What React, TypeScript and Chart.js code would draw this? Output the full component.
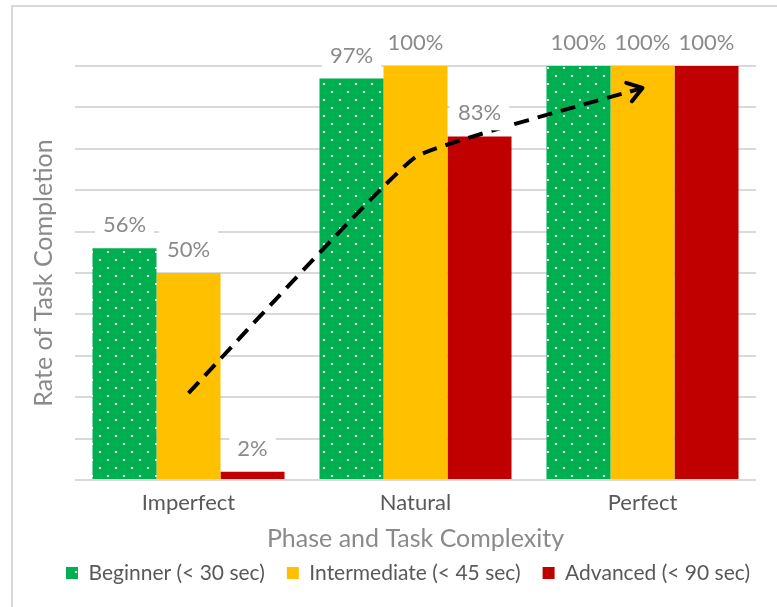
import React, { useEffect, useRef } from "react";
import { Chart, registerables } from "chart.js";

Chart.register(...registerables);

// ---- data ----
const categories = ["Imperfect", "Natural", "Perfect"];
const seriesNames = ["Beginner (< 30 sec)", "Intermediate (< 45 sec)", "Advanced (< 90 sec)"];
const beginnerValues = [56, 97, 100];
const intermediateValues = [50, 100, 100];
const advancedValues = [2, 83, 100];
const trendValues = [21, 78, 94.7];
const yMin = 0;
const yMax = 100;
const yStep = 10;
const xTitle = "Phase and Task Complexity";
const yTitle = "Rate of Task Completion";

// ---- style ----
const FONT = "Lato";
const GREEN = "#00B050";
const YELLOW = "#FFC000";
const RED = "#C00000";
const GRID = "#d9d9d9";
const LABEL_GRAY = "#8a8a8a";
const TICK_GRAY = "#595959";
const LEGEND_CENTER_X = 408;
const LEGEND_TEXT_Y = 573;

function makeDotPattern(ctx: CanvasRenderingContext2D) {
  const c = document.createElement("canvas");
  c.width = 16;
  c.height = 16;
  const p = c.getContext("2d")!;
  p.fillStyle = GREEN;
  p.fillRect(0, 0, 16, 16);
  p.fillStyle = "#ffffff";
  p.fillRect(3, 3, 2, 2);
  p.fillRect(11, 11, 2, 2);
  return ctx.createPattern(c, "repeat") as CanvasPattern;
}

const valueLabelPlugin = {
  id: "valueLabels",
  afterDatasetsDraw(chart: any) {
    const ctx = chart.ctx as CanvasRenderingContext2D;
    ctx.save();
    ctx.font = `22px ${FONT}`;
    ctx.textAlign = "center";
    ctx.textBaseline = "middle";
    chart.data.datasets.forEach((ds: any, di: number) => {
      if (ds.type === "line") return;
      const meta = chart.getDatasetMeta(di);
      meta.data.forEach((el: any, i: number) => {
        const text = `${ds.data[i]}%`;
        const w = ctx.measureText(text).width;
        const cx = el.x;
        const cy = el.y - 24;
        ctx.fillStyle = "#ffffff";
        ctx.fillRect(cx - w / 2 - 8, cy - 18, w + 16, 36);
        ctx.fillStyle = LABEL_GRAY;
        ctx.fillText(text, cx, cy + 1);
      });
    });
    ctx.restore();
  },
};

const arrowHeadPlugin = {
  id: "arrowHead",
  afterDatasetsDraw(chart: any) {
    const idx = chart.data.datasets.findIndex((d: any) => d.type === "line");
    if (idx < 0) return;
    const pts = chart.getDatasetMeta(idx).data;
    if (pts.length < 2) return;
    const end = pts[pts.length - 1];
    const prev = pts[pts.length - 2];
    let fx = end.cp1x;
    let fy = end.cp1y;
    if (fx === undefined || (Math.abs(fx - end.x) < 0.5 && Math.abs(fy - end.y) < 0.5)) {
      fx = prev.x;
      fy = prev.y;
    }
    const a = Math.atan2(end.y - fy, end.x - fx);
    const ctx = chart.ctx as CanvasRenderingContext2D;
    ctx.save();
    ctx.strokeStyle = "#000000";
    ctx.lineWidth = 4;
    ctx.lineCap = "round";
    ctx.lineJoin = "round";
    ctx.setLineDash([]);
    const len = 17;
    ctx.beginPath();
    ctx.moveTo(end.x + len * Math.cos(a + Math.PI - 0.6), end.y + len * Math.sin(a + Math.PI - 0.6));
    ctx.lineTo(end.x, end.y);
    ctx.lineTo(end.x + len * Math.cos(a + Math.PI + 0.6), end.y + len * Math.sin(a + Math.PI + 0.6));
    ctx.stroke();
    ctx.restore();
  },
};

const legendPlacePlugin = {
  id: "legendPlace",
  afterLayout(chart: any) {
    const lg = chart.legend;
    if (!lg) return;
    const pad = lg.options.labels.padding;
    const fs = lg.options.labels.font.size;
    const dx = LEGEND_CENTER_X - (lg.left + lg.right) / 2;
    const dy = LEGEND_TEXT_Y - (lg.top + pad + fs / 2);
    lg.left += dx;
    lg.right += dx;
    lg.top += dy;
    lg.bottom += dy;
  },
};

export default function App() {
  const canvasRef = useRef<HTMLCanvasElement | null>(null);

  useEffect(() => {
    const canvas = canvasRef.current;
    if (!canvas) return;
    const ctx = canvas.getContext("2d")!;
    const pattern = makeDotPattern(ctx);

    const chart = new Chart(ctx, {
      type: "bar",
      data: {
        labels: categories,
        datasets: [
          {
            type: "bar",
            label: seriesNames[0],
            data: beginnerValues,
            backgroundColor: pattern,
            borderWidth: 0,
            order: 1,
          },
          {
            type: "bar",
            label: seriesNames[1],
            data: intermediateValues,
            backgroundColor: YELLOW,
            borderWidth: 0,
            order: 1,
          },
          {
            type: "bar",
            label: seriesNames[2],
            data: advancedValues,
            backgroundColor: RED,
            borderWidth: 0,
            order: 1,
          },
          {
            type: "line",
            label: "trend",
            data: trendValues,
            borderColor: "#000000",
            borderWidth: 4,
            borderDash: [15, 9],
            pointRadius: 0,
            tension: 0.1,
            fill: false,
            order: 0,
          } as any,
        ],
      },
      options: {
        responsive: false,
        animation: false,
        events: [],
        layout: { padding: { left: 25, right: 21, top: 66, bottom: 0 } },
        datasets: {
          bar: { categoryPercentage: 0.846, barPercentage: 1 },
        },
        scales: {
          x: {
            grid: { display: false, drawTicks: false },
            border: { display: false },
            ticks: {
              color: TICK_GRAY,
              font: { family: FONT, size: 22 },
              padding: 10,
              maxRotation: 0,
              autoSkip: false,
            },
            title: {
              display: true,
              text: xTitle,
              color: LABEL_GRAY,
              font: { family: FONT, size: 25 },
              padding: { top: 0, bottom: 0 },
            },
            afterFit(scale: any) {
              scale.height = 74;
            },
          },
          y: {
            min: yMin,
            max: yMax,
            grid: { color: GRID, lineWidth: 2, drawTicks: false },
            border: { display: false },
            ticks: { display: false, stepSize: yStep },
            title: {
              display: true,
              text: yTitle,
              color: LABEL_GRAY,
              font: { family: FONT, size: 25 },
              padding: { top: 4, bottom: 4 },
            },
            afterFit(scale: any) {
              scale.width = 50;
            },
          },
        },
        plugins: {
          tooltip: { enabled: false },
          legend: {
            position: "bottom",
            labels: {
              color: TICK_GRAY,
              font: { family: FONT, size: 21 },
              boxWidth: 12,
              boxHeight: 12,
              padding: 22,
              filter: (item: any) => item.datasetIndex !== 3,
            },
          },
        },
      },
      plugins: [valueLabelPlugin, arrowHeadPlugin, legendPlacePlugin],
    } as any);

    return () => chart.destroy();
  }, []);

  return (
    <div
      style={{
        position: "fixed",
        left: 0,
        top: 0,
        width: 777,
        height: 607,
        background: "#ffffff",
        overflow: "hidden",
      }}
    >
      <div
        style={{
          position: "absolute",
          left: 11,
          top: 5,
          width: 800,
          height: 700,
          borderLeft: `2px solid ${GRID}`,
          borderTop: `2px solid ${GRID}`,
        }}
      />
      <canvas
        ref={canvasRef}
        width={777}
        height={607}
        style={{ position: "absolute", left: 0, top: 0, display: "block" }}
      />
    </div>
  );
}
